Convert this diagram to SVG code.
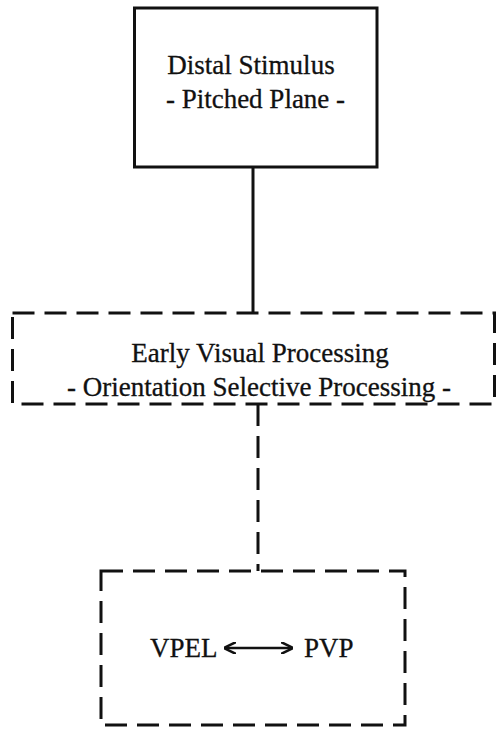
<svg xmlns="http://www.w3.org/2000/svg" width="496" height="733" viewBox="0 0 496 733">
<defs>
<style>
.t{font-family:"Liberation Serif","Times New Roman",serif;font-size:27px;fill:#111;stroke:#111;stroke-width:0.3;text-anchor:middle}
.s{text-anchor:start}
.solid{fill:none;stroke:#111;stroke-width:3}
.dash{fill:none;stroke:#111;stroke-width:3;stroke-dasharray:22,10}
</style>
<marker id="ah" viewBox="0 0 12 12" refX="11" refY="6" markerWidth="12" markerHeight="12" markerUnits="userSpaceOnUse" orient="auto-start-reverse">
<path d="M0,0 L12,6 L0,12" fill="none" stroke="#111" stroke-width="2.5"/>
</marker>
</defs>
<rect width="496" height="733" fill="#fff"/>
<g id="connectors">
<line class="solid" x1="253" y1="167" x2="253" y2="313"/>
<line class="dash" x1="258" y1="404" x2="258" y2="571"/>
</g>
<g id="distal">
<rect class="solid" x="134.5" y="8" width="242.5" height="159"/>
<text class="t" x="251" y="74">Distal Stimulus</text>
<text class="t" x="255.5" y="108">- Pitched Plane -</text>
</g>
<g id="early">
<rect class="dash" x="12.5" y="313" width="482" height="91"/>
<text class="t" x="260" y="362">Early Visual Processing</text>
<text class="t" x="259" y="396">- Orientation Selective Processing -</text>
</g>
<g id="lower">
<rect class="dash" x="101" y="571" width="304" height="154"/>
<text class="t s" x="150" y="657">VPEL</text>
<line x1="225" y1="648" x2="292" y2="648" stroke="#111" stroke-width="2.5" marker-start="url(#ah)" marker-end="url(#ah)"/>
<text class="t s" x="304" y="657">PVP</text>
</g>
</svg>
